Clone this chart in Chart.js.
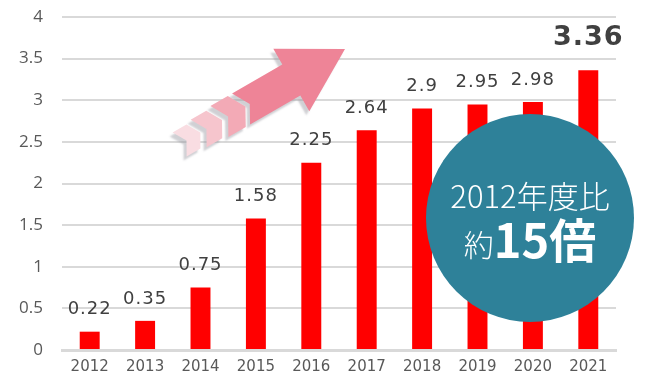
<!DOCTYPE html>
<html>
<head>
<meta charset="utf-8">
<script src="https://cdn.jsdelivr.net/npm/chart.js@4.4.1/dist/chart.umd.min.js"></script>
<style>
  html, body { margin: 0; padding: 0; background: #fff; }
  #wrap { width: 655px; height: 390px; position: relative; }
</style>
</head>
<body>
<div id="wrap"><canvas id="bar-chart" width="655" height="390"></canvas></div>
<script>
    "use strict";

    // Data
    var years = ["2012", "2013", "2014", "2015", "2016", "2017", "2018", "2019", "2020", "2021"];
    var values = [0.22, 0.35, 0.75, 1.58, 2.25, 2.64, 2.9, 2.95, 2.98, 3.36];
    var yTicks = [0, 0.5, 1, 1.5, 2, 2.5, 3, 3.5, 4];
    var badgeLine1 = "2012年度比";
    var badgePrefix = "約";
    var badgeNumber = "15倍";

    // Value labels above bars
    var valueLabels = {
        id: "valueLabels",
        afterDatasetsDraw: function (chart) {
            var ctx = chart.ctx;
            var meta = chart.getDatasetMeta(0);
            ctx.save();
            ctx.textAlign = "center";
            ctx.textBaseline = "bottom";
            meta.data.forEach(function (bar, i) {
                var last = i === values.length - 1;
                ctx.fillStyle = "#404040";
                ctx.font = last ? "bold 27px 'DejaVu Sans'" : "18px 'DejaVu Sans'";
                ctx.letterSpacing = "1px";
                ctx.fillText(String(values[i]), bar.x, bar.y - (last ? 19 : 13));
            });
            ctx.restore();
        }
    };

    // Arrow and circle badge
    var decorations = {
        id: "decorations",
        afterDraw: function (chart) {
            var ctx = chart.ctx;

            // arrow
            ctx.save();
            ctx.translate(345, 49);
            ctx.rotate(-30 * Math.PI / 180);
            ctx.shadowColor = "rgba(150,150,160,0.45)";
            ctx.shadowOffsetX = -3;
            ctx.shadowOffsetY = 4;
            ctx.shadowBlur = 2;
            // head + main shaft (tip at origin, pointing +x)
            ctx.fillStyle = "#ee8497";
            ctx.beginPath();
            ctx.moveTo(0, 0);
            ctx.lineTo(-62, -36);
            ctx.lineTo(-62, -18);
            ctx.lineTo(-120, -18);
            ctx.lineTo(-110, 0);
            ctx.lineTo(-120, 18);
            ctx.lineTo(-62, 18);
            ctx.lineTo(-62, 36);
            ctx.closePath();
            ctx.fill();
            // fading chevrons
            var shades = ["#f3aab6", "#f6c5cd", "#f9dde2"];
            var start = -125;
            for (var k = 0; k < shades.length; k++) {
                var len = 20 - k * 2;
                ctx.fillStyle = shades[k];
                ctx.beginPath();
                ctx.moveTo(start, -18 + k * 2);
                ctx.lineTo(start + 10 - k, 0);
                ctx.lineTo(start, 18 - k * 2);
                ctx.lineTo(start - len, 18 - k * 2);
                ctx.lineTo(start - len + 10 - k, 0);
                ctx.lineTo(start - len, -18 + k * 2);
                ctx.closePath();
                ctx.fill();
                start = start - len - 6;
            }
            ctx.restore();

            // circle badge
            ctx.save();
            ctx.fillStyle = "#2e8199";
            ctx.beginPath();
            ctx.arc(530, 218, 104, 0, Math.PI * 2);
            ctx.fill();
            ctx.fillStyle = "#ffffff";
            ctx.textAlign = "center";
            ctx.textBaseline = "alphabetic";
            ctx.font = "300 31px 'Noto Sans CJK JP'";
            ctx.fillText(badgeLine1, 530, 208);
            ctx.font = "300 30px 'Noto Sans CJK JP'";
            var w1 = ctx.measureText(badgePrefix).width;
            ctx.font = "bold 47px 'Noto Sans CJK JP'";
            var w2 = ctx.measureText(badgeNumber).width;
            var x0 = 530 - (w1 + w2) / 2;
            ctx.textAlign = "left";
            ctx.font = "300 30px 'Noto Sans CJK JP'";
            ctx.fillText(badgePrefix, x0, 256);
            ctx.font = "bold 47px 'Noto Sans CJK JP'";
            ctx.fillText(badgeNumber, x0 + w1, 258);
            ctx.restore();
        }
    };

    var ctx1 = document.getElementById("bar-chart").getContext("2d");
    var myChart1 = new Chart(ctx1, {
        type: "bar",
        data: {
            labels: years,
            datasets: [{
                data: values,
                backgroundColor: "#ff0000",
                barPercentage: 0.72,
                categoryPercentage: 0.5
            }]
        },
        options: {
            responsive: false,
            animation: false,
            layout: { padding: { top: 17, right: 39, left: 0, bottom: 0 } },
            plugins: {
                legend: { display: false },
                tooltip: { enabled: false }
            },
            scales: {
                x: {
                    grid: { display: false, drawTicks: false },
                    border: { color: "#d9d9d9", width: 3 },
                    ticks: {
                        color: "#595959",
                        font: { family: "DejaVu Sans", size: 15 },
                        padding: 8
                    },
                    afterFit: function (scale) {
                        scale.height = 40;
                        scale.paddingLeft = 0;
                        scale.paddingRight = 0;
                    }
                },
                y: {
                    min: 0,
                    max: 4,
                    afterBuildTicks: function (scale) {
                        scale.ticks = yTicks.map(function (v) { return { value: v }; });
                    },
                    grid: { color: "#d9d9d9", lineWidth: 2, drawTicks: false },
                    border: { display: false },
                    ticks: {
                        color: "#595959",
                        font: { family: "Open Sans", size: 17 },
                        padding: 19,
                        callback: function (v) { return String(v); }
                    },
                    afterFit: function (scale) {
                        scale.width = 62;
                        scale.paddingTop = 0;
                        scale.paddingBottom = 0;
                    }
                }
            }
        },
        plugins: [valueLabels, decorations]
    });
</script>
</body>
</html>
